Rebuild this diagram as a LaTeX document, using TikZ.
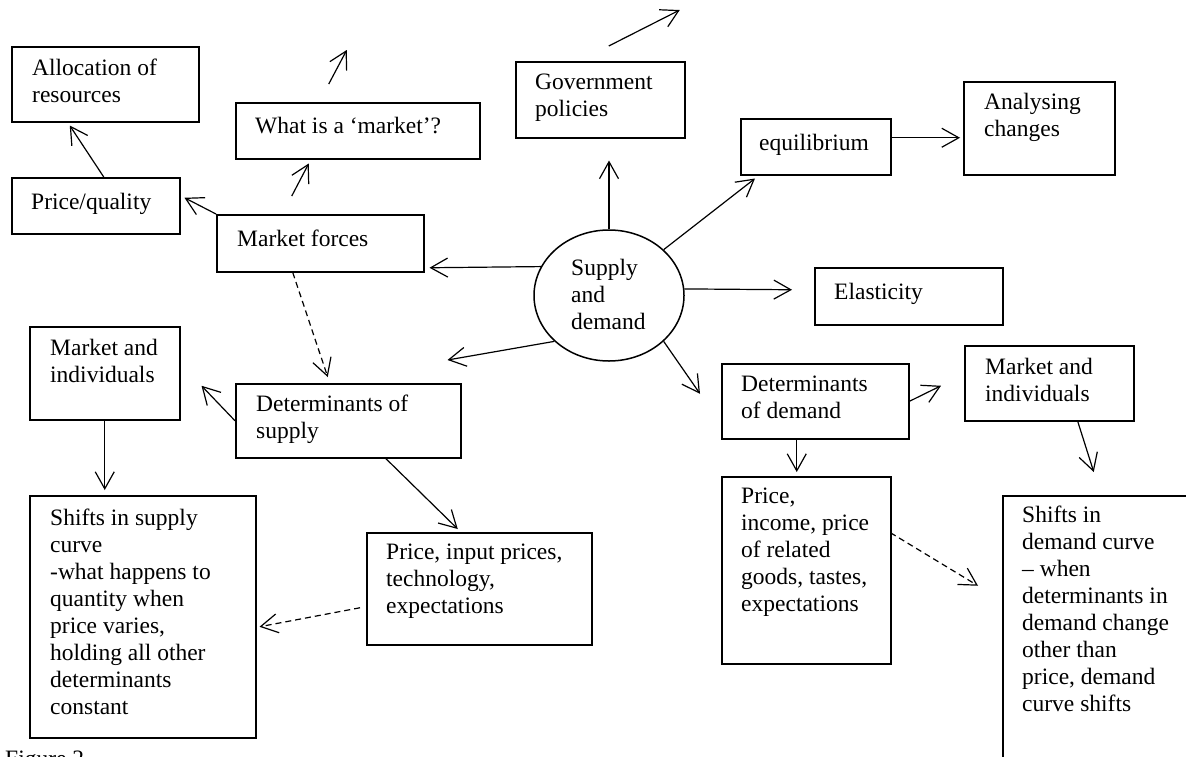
\documentclass[tikz,border=0pt]{standalone}
\usepackage{fontspec}
\setmainfont{Liberation Serif}
\usetikzlibrary{arrows.meta,shapes.geometric}
\newcommand{\mapfont}{\fontsize{23.5}{27}\selectfont}
\tikzset{
  box/.style={draw, line width=1.5pt, anchor=north west, inner sep=0pt},
  txt/.style={anchor=north west, inner sep=0pt, align=left, font=\mapfont, yshift=18.9pt, execute at begin node=\strut},
  link/.style={line width=1.2pt, -{Straight Barb[length=17pt,width=19pt]}},
  hint/.style={link, dash pattern=on 6pt off 4pt},
}
\begin{document}
\begin{tikzpicture}[x=1pt, y=-1pt]
        \useasboundingbox (0,0) rectangle (1186,756);
        \clip (0,0) rectangle (1186,756);

            % boxes, text set on its first baseline
            \node[box, minimum width=187pt, minimum height=75pt] (alloc) at (11,46) {};
            \node[txt] (alloc-t) at (32,78) {Allocation of\\resources};
            \node[box, minimum width=168pt, minimum height=56pt] (pq) at (11,177) {};
            \node[txt] (pq-t) at (31,209) {Price/quality};
            \node[box, minimum width=244pt, minimum height=56pt] (wim) at (235,102) {};
            \node[txt] (wim-t) at (255,133) {What is a ‘market’?};
            \node[box, minimum width=207pt, minimum height=57pt] (mf) at (216,214) {};
            \node[txt] (mf-t) at (237,246) {Market forces};
            \node[box, minimum width=169pt, minimum height=76pt] (gov) at (515,61) {};
            \node[txt] (gov-t) at (535,93) {Government\\policies};
            \node[box, minimum width=150pt, minimum height=56pt] (eq) at (740,118) {};
            \node[txt] (eq-t) at (759,150) {equilibrium};
            \node[box, minimum width=151pt, minimum height=93pt] (an) at (963,81) {};
            \node[txt] (an-t) at (984,112) {Analysing\\changes};
            \node[box, minimum width=188pt, minimum height=57pt] (el) at (814,267) {};
            \node[txt] (el-t) at (834,299) {Elasticity};

            \node[draw, ellipse, line width=1.5pt, inner sep=0pt, minimum width=150pt, minimum height=131pt] (sd) at (609,295.5) {};
            \node[txt] (sd-t) at (571,278) {Supply\\and\\demand};

            \node[box, minimum width=150pt, minimum height=93pt] (mil) at (29,326) {};
            \node[txt] (mil-t) at (50,358) {Market and\\individuals};
            \node[box, minimum width=225pt, minimum height=74pt] (ds) at (235,383) {};
            \node[txt] (ds-t) at (256,414) {Determinants of\\supply};
            \node[box, minimum width=226pt, minimum height=242pt] (ssc) at (29,495) {};
            \node[txt] (ssc-t) at (50,528) {Shifts in supply\\curve\\-what happens to\\quantity when\\price varies,\\holding all other\\determinants\\constant};
            \node[box, minimum width=225pt, minimum height=112pt] (pip) at (366,532) {};
            \node[txt] (pip-t) at (386,563) {Price, input prices,\\technology,\\expectations};

            \node[box, minimum width=187pt, minimum height=75pt] (dd) at (721,363) {};
            \node[txt] (dd-t) at (741,395) {Determinants\\of demand};
            \node[box, minimum width=169pt, minimum height=75pt] (mir) at (964,345) {};
            \node[txt] (mir-t) at (985,377) {Market and\\individuals};
            \node[box, minimum width=169pt, minimum height=187pt] (pinc) at (721,476) {};
            \node[txt] (pinc-t) at (741,507) {Price,\\income, price\\of related\\goods, tastes,\\expectations};
            \node[box, minimum width=188pt, minimum height=275pt] (sdc) at (1002,495) {};
            \node[txt] (sdc-t) at (1022,525) {Shifts in\\demand curve\\– when\\determinants in\\demand change\\other than\\price, demand\\curve shifts};

            \node[txt] (fig) at (5,766) {Figure 2};

            % arrows out of the centre
            \draw[link, shorten >=22pt] (sd.north) -- (sd.north |- gov.south);
            \draw[link] (sd.40) -- ([shift={(15,3)}]eq.south west);
            \draw[link] (sd.5) -- ([shift={(-22,-6.5)}]el.west);
            \draw[link] (sd.157) -- ([shift={(5,24.5)}]mf.east);
            \draw[link] (sd.220) -- ([shift={(-14,-23)}]ds.north east);
            \draw[link] (sd.-40) -- ([shift={(-21,-7.5)}]dd.west);

            \draw[link] ([shift={(0,-9)}]eq.east) -- ([shift={(-3,9.5)}]an.west);
            \draw[link] ([shift={(8.5,-15)}]gov.north) -- ([shift={(79.5,-51)}]gov.north);

            \draw[link] (mf.north west) -- ([shift={(4,-8)}]pq.east);
            \draw[link] ([shift={(8,0)}]pq.north) -- ([shift={(-35.5,3)}]alloc.south);
            \draw[link] ([shift={(-28.5,-18)}]mf.north) -- ([shift={(-49,4)}]wim.south);
            \draw[link] ([shift={(-29,-18)}]wim.north) -- ([shift={(-11,-52)}]wim.north);
            \draw[hint] ([shift={(-27.5,0)}]mf.south) -- ([shift={(-20.5,-6)}]ds.north);

            % supply side
            \draw[link] (ds.west) -- ([shift={(21,12.5)}]mil.east);
            \draw[link, shorten >=5pt] (mil.south) -- (mil.south |- ssc.north);
            \draw[link] ([shift={(37.5,0)}]ds.south) -- ([shift={(-21.5,-3)}]pip.north);
            \draw[hint] ([shift={(-6,19)}]pip.west) -- ([shift={(3,10)}]ssc.east);

            % demand side
            \draw[link] (dd.east) -- ([shift={(-23,2.5)}]mir.west);
            \draw[link] ([shift={(-18.5,0)}]dd.south) -- ([shift={(-9.5,-4)}]pinc.north);
            \draw[link] ([shift={(28.5,0)}]mir.south) -- ([shift={(-3,-23)}]sdc.north);
            \draw[hint] ([shift={(-1,-37.5)}]pinc.east) -- ([shift={(-24,-47.5)}]sdc.west);
        \end{tikzpicture}
\end{document}
